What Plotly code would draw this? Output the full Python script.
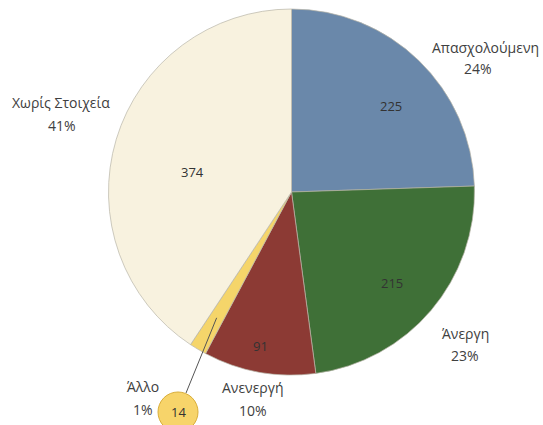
import math
import plotly.graph_objects as go

categories = ["Απασχολούμενη", "Άνεργη", "Ανενεργή", "Άλλο", "Χωρίς Στοιχεία"]
values = [225, 215, 91, 14, 374]
percent_labels = ["24%", "23%", "10%", "1%", "41%"]
colors = ["#6A88AA", "#3F7037", "#8C3A34", "#F5D56A", "#F8F2DF"]

W, H = 543, 425
CX, CY, R = 291.5, 192, 183

fig = go.Figure(go.Pie(
    labels=categories,
    values=values,
    sort=False,
    direction="clockwise",
    rotation=0,
    textinfo="none",
    hoverinfo="label+value+percent",
    marker=dict(colors=colors, line=dict(color="#B8B4A8", width=0.7)),
    domain=dict(x=[(CX - R) / W, (CX + R) / W], y=[(H - CY - R) / H, (H - CY + R) / H]),
    showlegend=False,
))

total = sum(values)
cum = 0
mids = []
for v in values:
    mids.append((cum + v / 2) / total * 360)
    cum += v

def px(angle_deg, rf):
    a = math.radians(angle_deg)
    x = CX + R * rf * math.sin(a)
    y = CY - R * rf * math.cos(a)
    return x / W, 1 - y / H

annotations = []
# inside value labels
inner_rf = [0.72, 0.74, 0.86, None, 0.55]
inner_off = [5, 2, 1, 0, -5]
for i, v in enumerate(values):
    if inner_rf[i] is None:
        continue
    x, y = px(mids[i] + inner_off[i], inner_rf[i])
    annotations.append(dict(x=x, y=y, xref="paper", yref="paper", text=str(v),
                            xanchor="center", yanchor="middle",
                            showarrow=False, font=dict(size=13, color="#333333")))

# outer category labels: (name x, name y, percent x, percent y) in pixels
outer_pos = [(485, 47, 478, 68), (465, 333, 465, 355), (253, 387, 253, 410),
             (143, 386, 143, 409), (61, 103, 62, 126)]
for i, (nx, ny, qx, qy) in enumerate(outer_pos):
    annotations.append(dict(x=nx / W, y=1 - ny / H, xref="paper", yref="paper",
                            text=categories[i], xanchor="center", yanchor="middle",
                            showarrow=False, font=dict(size=14, color="#404040")))
    annotations.append(dict(x=qx / W, y=1 - qy / H, xref="paper", yref="paper",
                            text=percent_labels[i], xanchor="center", yanchor="middle",
                            showarrow=False, font=dict(size=14, color="#404040")))

# callout bubble for the small slice
bx, by, br = 178, 412, 20
sx, sy = px(mids[3], 0.8)
shapes = [
    dict(type="line", xref="paper", yref="paper",
         x0=(bx + 8) / W, y0=1 - (by - br + 1) / H, x1=sx, y1=sy,
         line=dict(color="#555555", width=1)),
    dict(type="circle", xref="paper", yref="paper",
         x0=(bx - br) / W, x1=(bx + br) / W, y0=1 - (by + br) / H, y1=1 - (by - br) / H,
         fillcolor="#F7D46A", line=dict(color="#D9AE3A", width=1)),
]
annotations.append(dict(x=bx / W, y=1 - by / H, xref="paper", yref="paper",
                        text=str(values[3]), showarrow=False,
                        xanchor="center", yanchor="middle",
                        font=dict(size=13, color="#333333")))

fig.update_layout(
    width=W, height=H,
    margin=dict(l=0, r=0, t=0, b=0),
    paper_bgcolor="white",
    font=dict(family="Open Sans, sans-serif"),
    annotations=annotations,
    shapes=shapes,
)

fig.write_html("out.html", config={"displayModeBar": False},
               post_script="document.body.style.margin='0';document.body.style.overflow='hidden';")
